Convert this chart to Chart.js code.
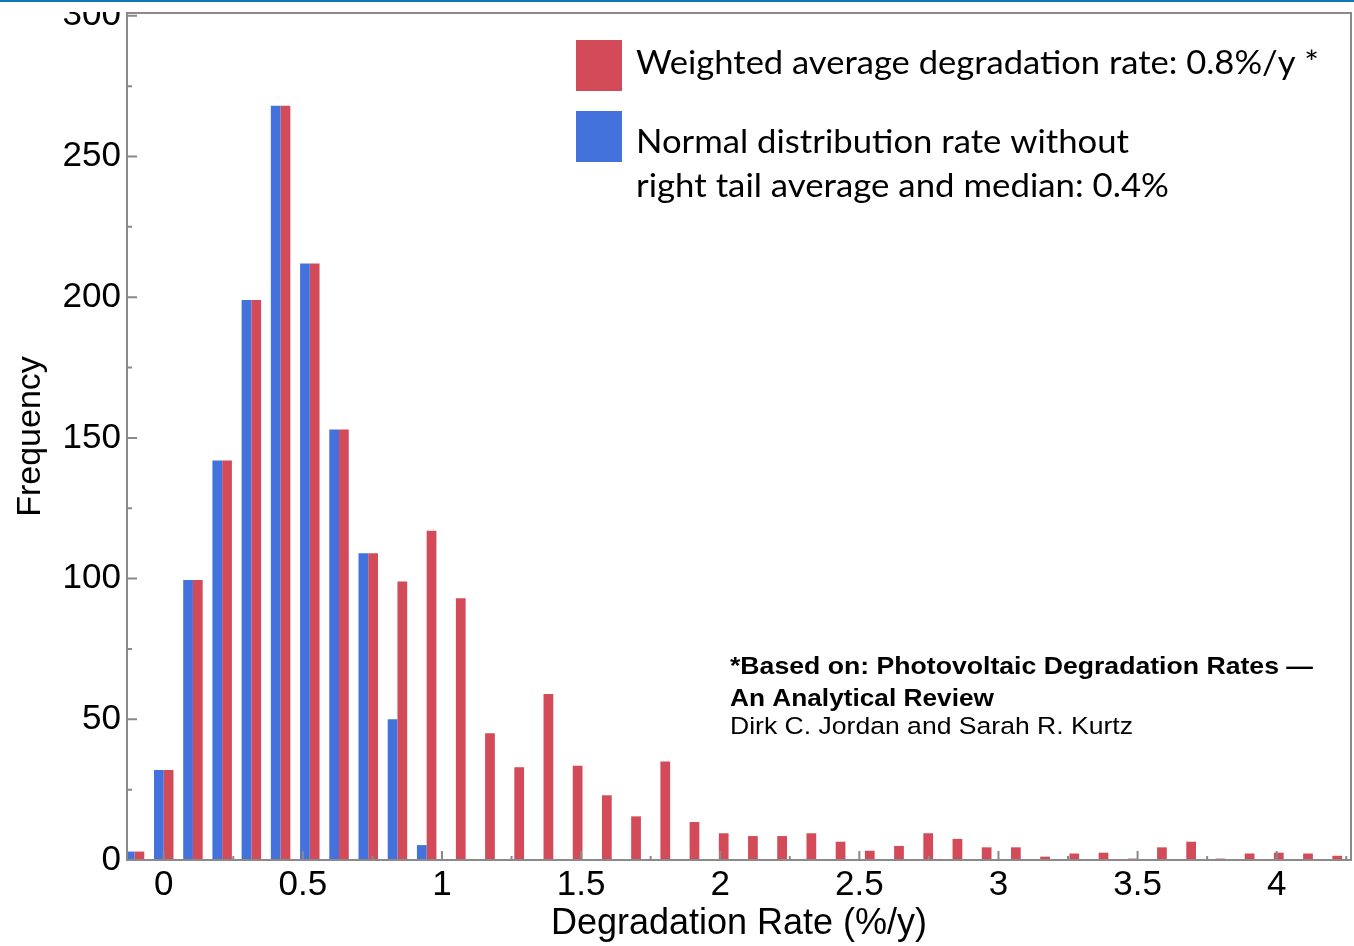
<!DOCTYPE html>
<html>
<head>
<meta charset="utf-8">
<title>Degradation rate histogram</title>
<script src="https://cdn.jsdelivr.net/npm/chart.js@4.4.0/dist/chart.umd.min.js"></script>
<style>
  html, body { margin: 0; padding: 0; background: #fff; }
  #wrap { position: relative; width: 1354px; height: 946px; overflow: hidden; }
  #wrap canvas { position: absolute; left: 0; top: 0; }
  #mask { position: absolute; left: 0; top: 2px; width: 125px; height: 10px; background: #fff; }
  #topline { position: absolute; left: 0; top: 0; width: 1354px; height: 2px; background: #1274b8; }
</style>
</head>
<body>
<div id="wrap">
  <canvas id="chart" width="1354" height="946"></canvas>
  <div id="mask"></div>
  <div id="topline"></div>
</div>
<script>
// ---- values ----
const binCenters = [
  -0.105, 0, 0.105, 0.21, 0.315, 0.42, 0.525, 0.63, 0.735, 0.84, 0.945,
  1.05, 1.155, 1.26, 1.365, 1.47, 1.575, 1.68, 1.785, 1.89, 1.995,
  2.1, 2.205, 2.31, 2.415, 2.52, 2.625, 2.73, 2.835, 2.94, 3.045,
  3.15, 3.255, 3.36, 3.465, 3.57, 3.675, 3.78, 3.885, 3.99, 4.095, 4.2,
];

// red: all systems
const weightedRate = [
  3, 32, 99.5, 142, 199, 268, 212, 153, 109, 99, 117,
  93, 45, 33, 59, 33.5, 23, 15.5, 35, 13.5, 9.5,
  8.5, 8.5, 9.5, 6.5, 3.3, 5, 9.5, 7.5, 4.5, 4.5,
  1.2, 2.3, 2.6, 0.5, 4.5, 6.5, 0.5, 2.3, 2.6, 2.3, 1.5,
];

// blue: normal part without the right tail
const normalRate = [
  3, 32, 99.5, 142, 199, 268, 212, 153, 109, 50, 5.3,
  null, null, null, null, null, null, null, null, null, null,
  null, null, null, null, null, null, null, null, null, null,
  null, null, null, null, null, null, null, null, null, null, null,
];

const xTickValues = [0, 0.5, 1, 1.5, 2, 2.5, 3, 3.5, 4];
const xMinorValues = [0.25, 0.75, 1.25, 1.75, 2.25, 2.75, 3.25, 3.75, 4.25];
const yTickValues = [0, 50, 100, 150, 200, 250, 300];
const yMinorValues = [25, 75, 125, 175, 225, 275];

const weightedLabel = ["Weighted average degradation rate: 0.8%/y *"];
const normalLabel = ["Normal distribution rate without", "right tail average and median: 0.4%"];
const noteLines = [
  "*Based on: Photovoltaic Degradation Rates \u2014",
  "An Analytical Review",
  "Dirk C. Jordan and Sarah R. Kurtz",
];

const RED = "#d34a59";
const BLUE = "#4472dd";
const AXIS = "#8a8a8a";
const SANS = "'Liberation Sans', Arial, Helvetica, sans-serif";

// draw text squeezed/stretched to a given width
function fitText(ctx, text, x, baseline, width, font) {
  ctx.font = font;
  const w = ctx.measureText(text).width;
  ctx.save();
  ctx.translate(x, baseline);
  ctx.scale(width / w, 1);
  ctx.fillText(text, 0, 0);
  ctx.restore();
}

const extras = {
  id: "extras",
  afterDraw(chart) {
    const { ctx, chartArea: a } = chart;
    const x = chart.scales.x;
    const y = chart.scales.y;
    ctx.save();

    // frame top + right
    ctx.strokeStyle = AXIS;
    ctx.lineWidth = 2;
    ctx.beginPath();
    ctx.moveTo(a.left, a.top);
    ctx.lineTo(a.right, a.top);
    ctx.lineTo(a.right, a.bottom);
    ctx.stroke();

    // inward tick marks
    ctx.beginPath();
    xTickValues.forEach((v) => {
      const px = x.getPixelForValue(v);
      ctx.moveTo(px, a.bottom);
      ctx.lineTo(px, a.bottom - 9);
    });
    xMinorValues.forEach((v) => {
      const px = x.getPixelForValue(v);
      ctx.moveTo(px, a.bottom);
      ctx.lineTo(px, a.bottom - 4);
    });
    yTickValues.forEach((v) => {
      const py = y.getPixelForValue(v);
      ctx.moveTo(a.left, py);
      ctx.lineTo(a.left + 10, py);
    });
    yMinorValues.forEach((v) => {
      const py = y.getPixelForValue(v);
      ctx.moveTo(a.left, py);
      ctx.lineTo(a.left + 5, py);
    });
    ctx.stroke();

    // legend
    ctx.fillStyle = RED;
    ctx.fillRect(576, 40, 46, 51);
    ctx.fillStyle = BLUE;
    ctx.fillRect(576, 111, 46, 51);
    ctx.fillStyle = "#000";
    ctx.textBaseline = "alphabetic";
    ctx.textAlign = "left";
    fitText(ctx, weightedLabel[0], 636, 74, 683, "33px Lato");
    fitText(ctx, normalLabel[0], 636, 153, 493, "33px Lato");
    fitText(ctx, normalLabel[1], 636, 197, 533, "33px Lato");

    // source note
    fitText(ctx, noteLines[0], 730, 674, 583, "bold 24.5px " + SANS);
    fitText(ctx, noteLines[1], 730, 706, 264, "bold 24.5px " + SANS);
    fitText(ctx, noteLines[2], 730, 734, 403, "24.5px " + SANS);

    ctx.restore();
  },
};

const ctx = document.getElementById("chart");

new Chart(ctx, {
  type: "bar",
  data: {
    datasets: [
      {
        label: normalLabel.join(" "),
        data: binCenters.map((c, i) => ({ x: c, y: normalRate[i] })),
        backgroundColor: BLUE,
        borderWidth: 0,
        clip: 0,
      },
      {
        label: weightedLabel[0],
        data: binCenters.map((c, i) => ({ x: c, y: weightedRate[i] })),
        backgroundColor: RED,
        borderWidth: 0,
        clip: 0,
      },
    ],
  },
  options: {
    responsive: false,
    animation: false,
    devicePixelRatio: 1,
    categoryPercentage: 0.667,
    barPercentage: 1,
    layout: { padding: { top: 13, right: 3, left: 0, bottom: 0 } },
    plugins: {
      legend: { display: false },
      tooltip: { enabled: false },
    },
    scales: {
      x: {
        type: "linear",
        min: -0.132,
        max: 4.267,
        offset: false,
        grid: { display: false, drawTicks: false, offset: false },
        border: { display: true, color: AXIS, width: 2, z: 1 },
        ticks: {
          color: "#000",
          font: { family: SANS, size: 35 },
          padding: 4,
          maxRotation: 0,
          callback: (v) => String(v),
        },
        afterBuildTicks: (s) => {
          s.ticks = xTickValues.map((v) => ({ value: v }));
        },
        afterFit: (s) => {
          s.height = 86;
          s.paddingLeft = 0;
          s.paddingRight = 0;
        },
        title: {
          display: true,
          text: "Degradation Rate (%/y)",
          color: "#000",
          font: { family: SANS, size: 36 },
          padding: { top: 0, bottom: 0 },
        },
      },
      y: {
        min: 0,
        max: 301,
        grid: { display: false, drawTicks: false },
        border: { display: true, color: AXIS, width: 2, z: 1 },
        ticks: {
          color: "#000",
          font: { family: SANS, size: 35 },
          padding: 6,
          callback: (v) => String(v),
        },
        afterBuildTicks: (s) => {
          s.ticks = yTickValues.map((v) => ({ value: v }));
        },
        afterFit: (s) => {
          s.width = 127;
          s.paddingTop = 0;
          s.paddingBottom = 0;
        },
        title: {
          display: true,
          text: "Frequency",
          color: "#000",
          font: { family: SANS, size: 34 },
          padding: { top: 10, bottom: 0 },
        },
      },
    },
  },
  plugins: [extras],
});
</script>
</body>
</html>
